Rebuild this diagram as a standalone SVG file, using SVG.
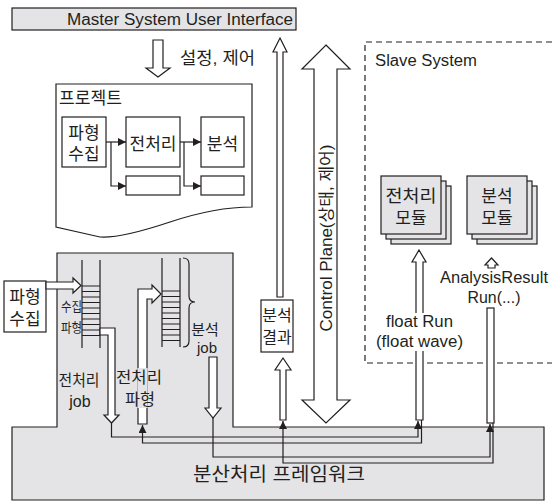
<svg xmlns="http://www.w3.org/2000/svg" width="552" height="504" viewBox="0 0 552 504">
<defs>
<marker id="ah" markerUnits="userSpaceOnUse" markerWidth="8" markerHeight="8" refX="8" refY="4" orient="auto">
<path d="M0,0 L8,4 L0,8 z" fill="#231f20"/>
</marker>
<style>
.s{stroke:#231f20;stroke-width:1.2;fill:none}
.w{stroke:#231f20;stroke-width:1.2;fill:#fff}
.g{stroke:#231f20;stroke-width:1.2;fill:#e4e4e6}
.c{stroke:#231f20;stroke-width:1.2;fill:none;marker-end:url(#ah)}
text{font-family:"Liberation Sans","Noto Sans CJK KR",sans-serif;fill:#231f20}
.m{text-anchor:middle}
</style>
</defs>
<rect width="552" height="504" fill="#fff"/>

<g id="framework">
<polygon class="g" points="57,253 233,253 233,427 544,427 544,500 12,500 12,427 57,427"/>
<text class="m" x="279" y="481" font-size="19" textLength="172" lengthAdjust="spacingAndGlyphs">분산처리 프레임워크</text>
</g>

<g id="master-ui">
<rect class="g" x="12" y="8" width="284" height="22"/>
<text x="293" y="25" font-size="16" text-anchor="end" textLength="226" lengthAdjust="spacingAndGlyphs">Master System User Interface</text>
</g>

<g id="setting-arrow">
<polygon class="w" points="153,40 163,40 163,68 170,68 158,77 146,68 153,68"/>
<text x="180" y="64" font-size="17" textLength="75" lengthAdjust="spacingAndGlyphs">설정, 제어</text>
</g>

<g id="project">
<path class="w" d="M56,84 H252 V207 C230,207 200,212 170,222 C140,232 115,238 100,237 L56,227 Z"/>
<text x="59" y="104" font-size="17" textLength="63" lengthAdjust="spacingAndGlyphs">프로젝트</text>
<g id="p-collect">
<rect class="w" x="62" y="117" width="44" height="50"/>
<text class="m" x="84" y="139" font-size="17">파형</text>
<text class="m" x="84" y="160" font-size="17">수집</text>
</g>
<g id="p-pre">
<rect class="w" x="126" y="117" width="54" height="50"/>
<text class="m" x="153" y="150" font-size="17">전처리</text>
</g>
<g id="p-ana">
<rect class="w" x="201" y="117" width="43" height="50"/>
<text class="m" x="222.5" y="150" font-size="17">분석</text>
</g>
<rect class="w" x="126" y="176" width="54" height="19"/>
<rect class="w" x="201" y="176" width="43" height="19"/>
</g>

<g id="result-up-arrow">
<polygon class="w" points="280,38 287,52 283,52 283,297 277,297 277,52 273,52"/>
</g>

<g id="control-plane">
<polygon class="w" points="326,45 350,69 337,69 337,400 350,400 326,423 302,400 314,400 314,69 302,69"/>
<text class="m" transform="translate(331.5,238) rotate(-90)" font-size="16" textLength="187" lengthAdjust="spacingAndGlyphs">Control Plane(상태, 제어)</text>
</g>

<g id="slave-system">
<path class="s" d="M552,42 H365 V363 H552" stroke-dasharray="6,4"/>
<text x="375" y="66" font-size="16" textLength="102" lengthAdjust="spacingAndGlyphs">Slave System</text>
</g>

<g id="pre-module">
<rect class="g" x="391" y="186" width="60" height="58"/>
<rect class="g" x="386" y="181" width="60" height="58"/>
<rect class="g" x="381" y="176" width="60" height="58"/>
<text class="m" x="411" y="202" font-size="17" textLength="51" lengthAdjust="spacingAndGlyphs">전처리</text>
<text class="m" x="411" y="224" font-size="17">모듈</text>
</g>

<g id="ana-module">
<rect class="g" x="477" y="186" width="60" height="58"/>
<rect class="g" x="472" y="181" width="60" height="58"/>
<rect class="g" x="467" y="176" width="60" height="58"/>
<text class="m" x="497" y="202" font-size="17">분석</text>
<text class="m" x="497" y="224" font-size="17">모듈</text>
</g>

<g id="analysis-result">
<rect class="w" x="261" y="300" width="32" height="52"/>
<text class="m" x="277" y="321" font-size="16">분석</text>
<text class="m" x="277" y="343" font-size="16">결과</text>
<polygon class="w" points="283,358 291,370 286,370 286,420 280,420 280,370 275,370"/>
</g>

<g id="float-run">
<polygon class="w" points="419,250 426,262 423,262 423,420 416,420 416,262 412,262"/>
<rect x="374" y="313" width="92" height="38" fill="#fff"/>
<text class="m" x="419.5" y="327" font-size="16" textLength="67" lengthAdjust="spacingAndGlyphs">float Run</text>
<text class="m" x="419.5" y="347" font-size="16" textLength="87" lengthAdjust="spacingAndGlyphs">(float wave)</text>
</g>

<g id="analysis-run">
<polygon class="w" points="491.5,258 498,265 495,265 495,268 488,268 488,265 485,265"/>
<text class="m" x="494" y="283" font-size="16" textLength="108" lengthAdjust="spacingAndGlyphs">AnalysisResult</text>
<text class="m" x="494" y="303" font-size="16" textLength="53" lengthAdjust="spacingAndGlyphs">Run(...)</text>
<rect class="w" x="487" y="308" width="7" height="115"/>
</g>

<g id="collect-input">
<rect class="w" x="4" y="281" width="42" height="51"/>
<text class="m" x="25" y="303" font-size="17">파형</text>
<text class="m" x="25" y="325" font-size="17">수집</text>
<polygon class="w" points="46,282 73,282 73,278 81,285.5 73,293 73,289 46,289"/>
</g>

<g id="queue-collect">
<path class="s" d="M82,260 V348 M100,260 V348 M82,286 H100 M82,291.5 H100 M82,297 H100 M82,302.5 H100 M82,308 H100 M82,313.5 H100 M82,319 H100 M82,324.5 H100 M82,330 H100 M82,335.5 H100"/>
<text x="82" y="311" font-size="13" text-anchor="end" textLength="21" lengthAdjust="spacingAndGlyphs">수집</text>
<text x="82" y="332" font-size="13" text-anchor="end" textLength="21" lengthAdjust="spacingAndGlyphs">파형</text>
</g>

<g id="pre-job">
<polygon class="w" points="100,328 115,328 115,415 119,415 111.5,423 104,415 108,415 108,335 100,335"/>
<text class="m" x="79" y="386" font-size="16" textLength="41" lengthAdjust="spacingAndGlyphs">전처리</text>
<text class="m" x="80" y="407" font-size="16">job</text>
</g>

<g id="pre-wave">
<polygon class="w" points="138,424 138,289 152,289 152,285 161,294 152,303 152,299 147,299 147,424"/>
<rect x="137.4" y="368" width="10.2" height="40" fill="#e4e4e6"/>
<text class="m" x="139" y="383" font-size="16" textLength="46" lengthAdjust="spacingAndGlyphs">전처리</text>
<text class="m" x="140" y="405" font-size="16" textLength="30" lengthAdjust="spacingAndGlyphs">파형</text>
</g>

<g id="queue-analysis">
<path class="s" d="M162,258 V347 M180,258 V347 M162,291 H180 M162,296.5 H180 M162,302 H180 M162,307.5 H180 M162,313 H180 M162,318.5 H180 M162,324 H180 M162,329.5 H180 M162,335 H180 M162,340.5 H180"/>
<path class="s" d="M183,258 Q189,258 189,264 V296 Q189,302 195,302 Q189,302 189,308 V341 Q189,347 183,347"/>
<text class="m" x="205" y="335" font-size="15">분석</text>
<text class="m" x="207" y="353" font-size="15">job</text>
</g>

<g id="ana-job">
<polygon class="w" points="209,357 217,357 217,408 221,408 213,418 205,408 209,408"/>
</g>

<g id="connectors">
<path class="c" d="M106,142 H126"/>
<path class="c" d="M111,142 V186 H126"/>
<path class="c" d="M180,142 H201"/>
<path class="c" d="M184,142 V186 H201"/>
<path class="c" d="M111.5,423 V437 H418 V421"/>
<path class="c" d="M421.5,420 V443 H142.5 V425"/>
<path class="c" d="M213,418 V457 H490 V424"/>
<path class="c" d="M493,423 V463 H283 V421"/>
</g>
</svg>
